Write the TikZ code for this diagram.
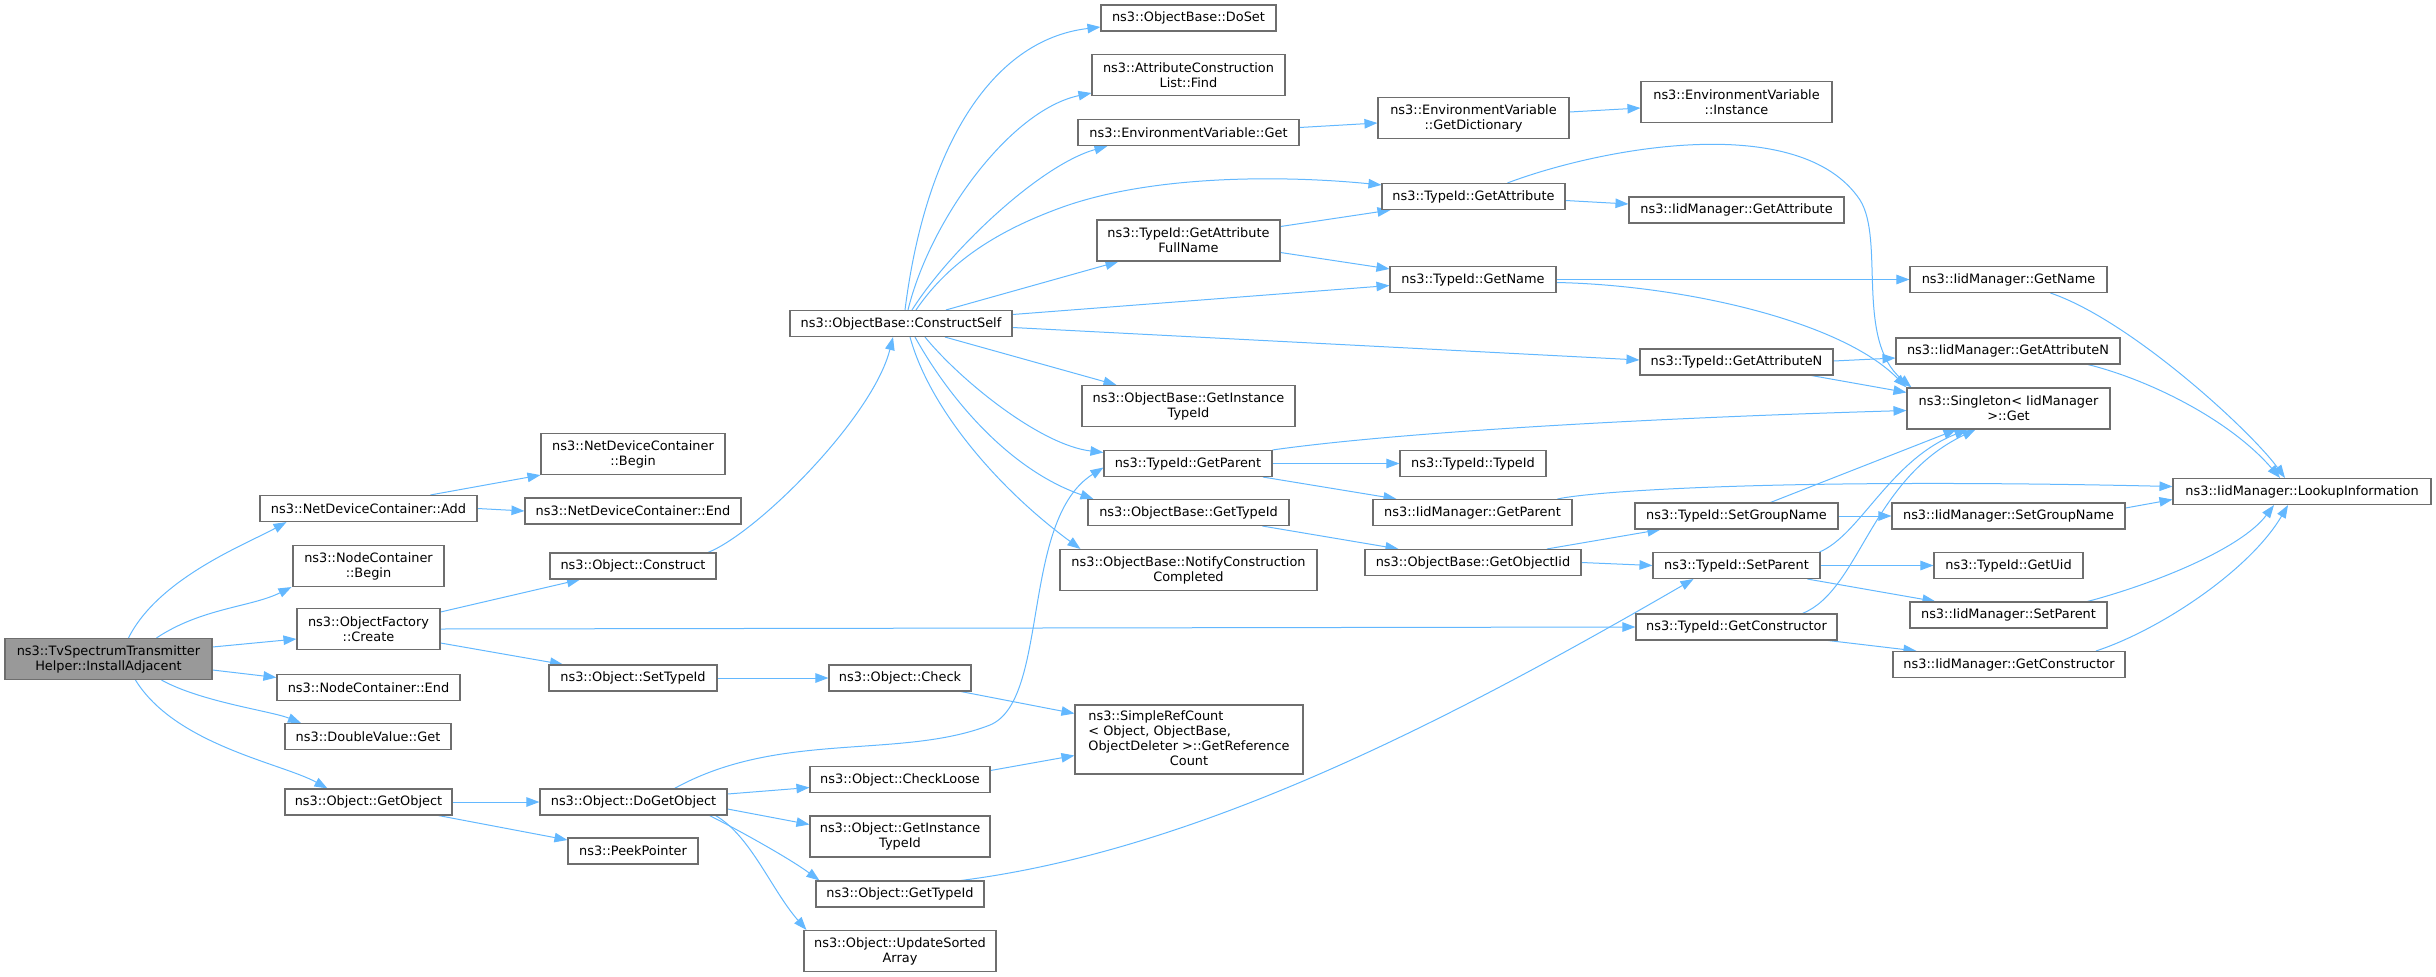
\documentclass[tikz,border=0pt]{standalone}
\usepackage{fontspec}
\setmainfont{DejaVu Sans}
\usetikzlibrary{arrows.meta}
\definecolor{edgec}{HTML}{63B8FF}
\definecolor{boxc}{HTML}{6E6E6E}
\definecolor{rootc}{HTML}{999999}
\newcommand\nodefont{\fontsize{12.9}{15}\selectfont}
\pgfdeclarelayer{bg}
\pgfsetlayers{bg,main}
\tikzset{
  box/.style={draw=boxc, fill=white, line width=1.1pt, inner sep=0pt, align=center, font=\nodefont},
  one/.style={box, minimum height=26pt},
  two/.style={box, minimum height=41pt},
  rootbox/.style={two, fill=rootc},
  ce/.style={draw=edgec, line width=1.0pt, -{Triangle[length=13pt,width=9.5pt]}},
}
\begin{document}
\begin{tikzpicture}[x=1pt,y=-1pt]
\useasboundingbox (0,0) rectangle (2436,977);
% column 1
\node[rootbox, minimum width=207pt] (root) at (108.5,659) {ns3::TvSpectrumTransmitter\\Helper::InstallAdjacent};
% column 2
\node[one, minimum width=217pt] (ndcadd) at (368.5,508.5) {ns3::NetDeviceContainer::Add};
\node[two, minimum width=151pt] (ncbegin) at (368.5,566) {ns3::NodeContainer\\::Begin};
\node[two, minimum width=143pt] (ofcreate) at (368.5,629) {ns3::ObjectFactory\\::Create};
\node[one, minimum width=183pt] (ncend) at (368.5,687.5) {ns3::NodeContainer::End};
\node[one, minimum width=166pt] (dvget) at (368,736.5) {ns3::DoubleValue::Get};
\node[one, minimum width=167pt] (getobject) at (368.5,802) {ns3::Object::GetObject};
% column 3
\node[two, minimum width=184pt] (ndcbegin) at (633,454) {ns3::NetDeviceContainer\\::Begin};
\node[one, minimum width=216pt] (ndcend) at (633,511) {ns3::NetDeviceContainer::End};
\node[one, minimum width=166pt] (construct) at (633,566) {ns3::Object::Construct};
\node[one, minimum width=168pt] (settypeid) at (633,678) {ns3::Object::SetTypeId};
\node[one, minimum width=187pt] (dogetobject) at (633.5,802) {ns3::Object::DoGetObject};
\node[one, minimum width=130pt] (peek) at (633,851) {ns3::PeekPointer};
% column 4
\node[one, minimum width=222pt] (constructself) at (901,323.5) {ns3::ObjectBase::ConstructSelf};
\node[one, minimum width=142pt] (check) at (900,678) {ns3::Object::Check};
\node[one, minimum width=180pt] (checkloose) at (900,779.5) {ns3::Object::CheckLoose};
\node[two, minimum width=180pt] (objgetinst) at (900,836.5) {ns3::Object::GetInstance\\TypeId};
\node[one, minimum width=168pt] (objgettypeid) at (900,894) {ns3::Object::GetTypeId};
\node[two, minimum width=192pt] (updsorted) at (900,951) {ns3::Object::UpdateSorted\\Array};
% column 5
\node[one, minimum width=175pt] (doset) at (1188.5,18) {ns3::ObjectBase::DoSet};
\node[two, minimum width=193pt] (attrfind) at (1188.5,75) {ns3::AttributeConstruction\\List::Find};
\node[one, minimum width=221pt] (envget) at (1188.5,132.5) {ns3::EnvironmentVariable::Get};
\node[two, minimum width=183pt] (getattrfull) at (1188.5,240.5) {ns3::TypeId::GetAttribute\\FullName};
\node[two, minimum width=213pt] (obgetinst) at (1188.5,406) {ns3::ObjectBase::GetInstance\\TypeId};
\node[one, minimum width=168pt] (tgetparent) at (1188,463.5) {ns3::TypeId::GetParent};
\node[one, minimum width=201pt] (obgettypeid) at (1188.5,512.5) {ns3::ObjectBase::GetTypeId};
\node[two, minimum width=257pt] (notify) at (1188.5,570) {ns3::ObjectBase::NotifyConstruction\\Completed};
\node[box, minimum width=228pt, minimum height=69pt] (simpleref) at (1189,739.5) {\begin{tabular}{@{}c@{}}\multicolumn{1}{@{}l@{}}{ns3::SimpleRefCount}\\\multicolumn{1}{@{}l@{}}{< Object, ObjectBase,}\\ObjectDeleter >::GetReference\\Count\end{tabular}};
% column 6
\node[two, minimum width=191pt] (getdict) at (1473.5,118) {ns3::EnvironmentVariable\\::GetDictionary};
\node[one, minimum width=183pt] (getattr) at (1473.5,196.5) {ns3::TypeId::GetAttribute};
\node[one, minimum width=166pt] (getname) at (1473,279.5) {ns3::TypeId::GetName};
\node[one, minimum width=146pt] (typeidtypeid) at (1473,463.5) {ns3::TypeId::TypeId};
\node[one, minimum width=199pt] (iidgetparent) at (1472.5,512.5) {ns3::IidManager::GetParent};
\node[one, minimum width=216pt] (getobjectiid) at (1473,562.5) {ns3::ObjectBase::GetObjectIid};
% column 7
\node[two, minimum width=191pt] (envinstance) at (1736.5,102) {ns3::EnvironmentVariable\\::Instance};
\node[one, minimum width=215pt] (iidgetattr) at (1736.5,210) {ns3::IidManager::GetAttribute};
\node[one, minimum width=193pt] (getattrn) at (1736.5,362) {ns3::TypeId::GetAttributeN};
\node[one, minimum width=203pt] (setgroupname) at (1736.5,516) {ns3::TypeId::SetGroupName};
\node[one, minimum width=167pt] (setparent) at (1736.5,565.5) {ns3::TypeId::SetParent};
\node[one, minimum width=201pt] (getconstructor) at (1736.5,627) {ns3::TypeId::GetConstructor};
% column 8
\node[one, minimum width=197pt] (iidgetname) at (2008.5,279.5) {ns3::IidManager::GetName};
\node[one, minimum width=224pt] (iidgetattrn) at (2008,351) {ns3::IidManager::GetAttributeN};
\node[two, minimum width=203pt] (singleton) at (2008.5,408.5) {ns3::Singleton< IidManager\\>::Get};
\node[one, minimum width=233pt] (iidsetgroupname) at (2008.5,516) {ns3::IidManager::SetGroupName};
\node[one, minimum width=149pt] (getuid) at (2008.5,565.5) {ns3::TypeId::GetUid};
\node[one, minimum width=197pt] (iidsetparent) at (2008.5,615) {ns3::IidManager::SetParent};
\node[one, minimum width=232pt] (iidgetconstructor) at (2009,664.5) {ns3::IidManager::GetConstructor};
% column 9
\node[one, minimum width=258pt] (lookup) at (2302,491.5) {ns3::IidManager::LookupInformation};

\begin{pgfonlayer}{bg}
% from root
\draw[ce] ([xshift=20pt]root.north) .. controls +(30,-60) and +(-40,22) .. ([xshift=-82pt]ndcadd.south);
\draw[ce] ([xshift=48pt]root.north) .. controls +(45,-30) and +(-40,20) .. ([xshift=-77pt]ncbegin.south);
\draw[ce] ([yshift=12pt]root.east) -- ([yshift=-10pt]ofcreate.west);
\draw[ce] ([yshift=-11pt]root.east) -- ([yshift=10pt]ncend.west);
\draw[ce] ([xshift=53pt]root.south) .. controls +(40,22) and +(-30,-12) .. ([xshift=-67pt]dvget.north);
\draw[ce] ([xshift=27pt]root.south) .. controls +(40,65) and +(-45,-25) .. ([xshift=-41pt]getobject.north);
% column 2 out
\draw[ce] ([xshift=62pt]ndcadd.north) -- (ndcbegin.south west);
\draw[ce] (ndcadd.east) -- (ndcend.west);
\draw[ce] ([yshift=17pt]ofcreate.east) -- ([xshift=-53pt]construct.south);
\draw[ce] (ofcreate.east) -- (getconstructor.west);
\draw[ce] ([yshift=-14pt]ofcreate.east) -- ([xshift=-70pt]settypeid.north);
\draw[ce] (getobject.east) -- (dogetobject.west);
\draw[ce] ([xshift=70pt]getobject.south) -- ([yshift=11pt]peek.west);
% column 3 out
\draw[ce] ([xshift=75pt]construct.north) .. controls +(50,-20) and +(-20,80) .. ([xshift=-8pt]constructself.south);
\draw[ce] (settypeid.east) -- (check.west);
\draw[ce] ([xshift=41pt]dogetobject.north) .. controls (780,730) and (900,760) .. (990,725) .. controls (1050,700) and (1020,520) .. ([yshift=-4pt]tgetparent.west);
\draw[ce] ([yshift=8pt]dogetobject.east) -- ([yshift=-8pt]checkloose.west);
\draw[ce] ([yshift=-7pt]dogetobject.east) -- ([yshift=12pt]objgetinst.west);
\draw[ce] ([xshift=76pt]dogetobject.south) .. controls +(30,15) and +(-30,-22) .. ([xshift=4pt]objgettypeid.north west);
\draw[ce] ([xshift=82pt]dogetobject.south) .. controls +(35,20) and +(-35,-40) .. ([xshift=3pt]updsorted.north west);
% column 4 out
\draw[ce] ([xshift=61pt]check.south) -- ([yshift=26pt]simpleref.west);
\draw[ce] ([yshift=9pt]checkloose.east) -- ([yshift=-16pt]simpleref.west);
\draw[ce] ([xshift=61pt]objgettypeid.north) .. controls (1200,850) and (1450,720) .. ([xshift=-43pt]setparent.south);
\draw[ce] ([xshift=4pt]constructself.north) .. controls (925,150) and (990,40) .. ([yshift=-9pt]doset.west);
\draw[ce] ([xshift=7pt]constructself.north) .. controls (930,220) and (1010,110) .. ([yshift=-18pt]attrfind.west);
\draw[ce] ([xshift=11pt]constructself.north) .. controls (950,250) and (1040,165) .. ([xshift=30pt]envget.south west);
\draw[ce] ([xshift=15pt]constructself.north) .. controls (950,260) and (1000,230) .. (1060,208) .. controls (1150,175) and (1280,175) .. ([yshift=-2pt]getattr.north west);
\draw[ce] ([xshift=45pt]constructself.north) -- ([xshift=22pt]getattrfull.south west);
\draw[ce] ([yshift=9pt]constructself.east) -- ([yshift=-6pt]getname.west);
\draw[ce] ([yshift=-4pt]constructself.east) -- ([yshift=2pt]getattrn.west);
\draw[ce] ([xshift=44pt]constructself.south) -- ([xshift=35pt]obgetinst.north west);
\draw[ce] ([xshift=24pt]constructself.south) .. controls (960,380) and (1040,445) .. ([yshift=11pt]tgetparent.west);
\draw[ce] ([xshift=14pt]constructself.south) .. controls (950,400) and (1010,470) .. ([xshift=6pt]obgettypeid.north west);
\draw[ce] ([xshift=9pt]constructself.south) .. controls (930,410) and (1000,490) .. ([xshift=21pt]notify.north west);
% column 5 out
\draw[ce] ([yshift=5pt]envget.east) -- ([yshift=-5pt]getdict.west);
\draw[ce] ([yshift=14pt]getattrfull.east) -- ([xshift=9pt]getattr.south west);
\draw[ce] ([yshift=-12pt]getattrfull.east) -- ([yshift=-3pt]getname.north west);
\draw[ce] (tgetparent.north east) .. controls (1400,432) and (1650,418) .. ([yshift=-2pt]singleton.west);
\draw[ce] (tgetparent.east) -- (typeidtypeid.west);
\draw[ce] ([xshift=75pt]tgetparent.south) -- ([xshift=24pt]iidgetparent.north west);
\draw[ce] ([xshift=74pt]obgettypeid.south) -- ([xshift=34pt]getobjectiid.north west);
% column 6 out
\draw[ce] ([yshift=6pt]getdict.east) -- ([yshift=-6pt]envinstance.west);
\draw[ce] ([yshift=-4pt]getattr.east) -- ([yshift=6pt]iidgetattr.west);
\draw[ce] ([xshift=34pt]getattr.north) .. controls (1600,148) and (1800,110) .. (1860,200) .. controls (1885,240) and (1855,340) .. ([xshift=5pt]singleton.north west);
\draw[ce] (getname.east) -- (iidgetname.west);
\draw[ce] ([yshift=-3pt]getname.east) .. controls (1680,285) and (1840,320) .. (singleton.north west);
\draw[ce] ([xshift=85pt]iidgetparent.north) .. controls (1600,490) and (1800,478) .. ([yshift=5pt]lookup.west);
\draw[ce] ([xshift=74pt]getobjectiid.north) -- ([xshift=26pt]setgroupname.south west);
\draw[ce] (getobjectiid.east) -- (setparent.west);
% column 7 out
\draw[ce] ([yshift=1pt]getattrn.east) -- ([yshift=-7pt]iidgetattrn.west);
\draw[ce] ([xshift=75pt]getattrn.south) -- ([yshift=-5pt]singleton.north west);
\draw[ce] ([xshift=34pt]setgroupname.north) -- ([xshift=50pt]singleton.south west);
\draw[ce] (setgroupname.east) -- (iidsetgroupname.west);
\draw[ce] ([xshift=-1pt]setparent.north east) .. controls (1860,535) and (1890,460) .. ([xshift=61pt]singleton.south west);
\draw[ce] (setparent.east) -- (getuid.west);
\draw[ce] ([xshift=71pt]setparent.south) -- ([xshift=26pt]iidsetparent.north west);
\draw[ce] ([xshift=66pt]getconstructor.north) .. controls (1860,590) and (1870,480) .. ([xshift=69pt]singleton.south west);
\draw[ce] ([xshift=92pt]getconstructor.south) -- ([xshift=24pt]iidgetconstructor.north west);
% column 8 out
\draw[ce] ([xshift=42pt]iidgetname.south) .. controls (2130,320) and (2250,430) .. ([xshift=-17pt]lookup.north);
\draw[ce] ([xshift=80pt]iidgetattrn.south) .. controls (2150,380) and (2230,420) .. ([xshift=-22pt]lookup.north);
\draw[ce] ([yshift=8pt]iidsetgroupname.east) -- ([yshift=-8pt]lookup.west);
\draw[ce] ([xshift=79pt]iidsetparent.north) .. controls (2150,585) and (2240,550) .. ([xshift=-28pt]lookup.south);
\draw[ce] ([xshift=87pt]iidgetconstructor.north) .. controls (2160,630) and (2250,570) .. ([xshift=-14pt]lookup.south);
\end{pgfonlayer}
\end{tikzpicture}
\end{document}
